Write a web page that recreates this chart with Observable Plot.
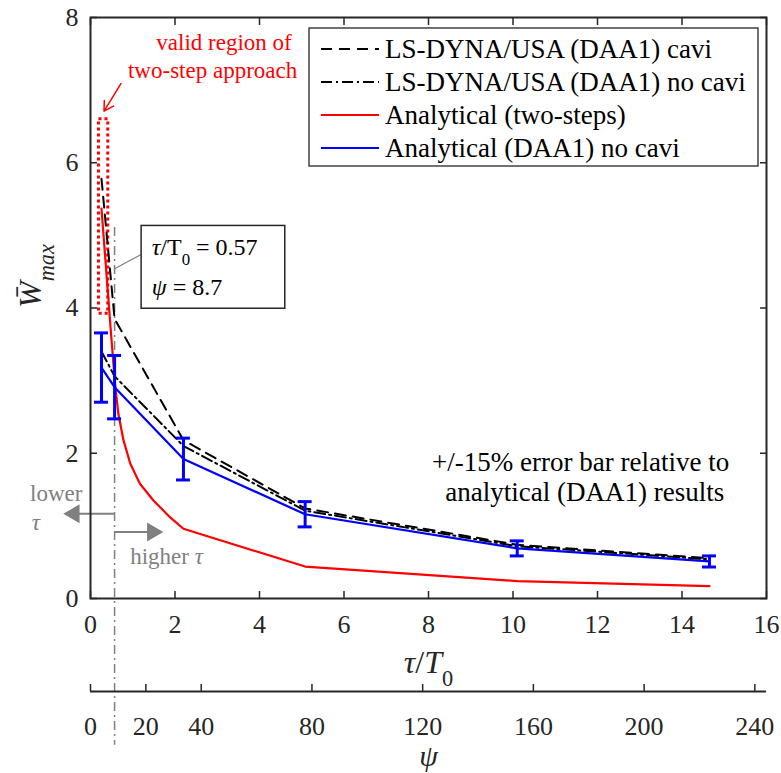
<!DOCTYPE html>
<html><head><meta charset="utf-8">
<script src="https://cdn.jsdelivr.net/npm/d3@7"></script>
<script src="https://cdn.jsdelivr.net/npm/@observablehq/plot@0.6"></script>
<style>
body{margin:0;background:#fff;}
#wrap{position:relative;width:781px;height:773px;font-family:"Liberation Serif","Times New Roman",serif;}
#wrap svg.legend{position:absolute;left:0;top:0;pointer-events:none;}
</style></head><body><div id="wrap"></div>
<script>
// ---- data ----
const tau = [0.26, 0.57, 2.2, 5.08, 10.1, 14.65];
const lsCavi = [5.78, 3.85, 2.18, 1.24, 0.74, 0.555];
const lsNoCavi = [3.40, 3.06, 2.10, 1.21, 0.72, 0.54];
const daa1NoCavi = [3.18, 2.91, 1.92, 1.16, 0.69, 0.51];
const twoStepTau = [0.26, 0.48, 0.58, 0.66, 0.78, 0.94, 1.17, 1.49, 1.88, 2.2, 5.08, 10.1, 14.65];
const twoStepW = [5.37, 3.69, 2.96, 2.54, 2.18, 1.86, 1.58, 1.35, 1.12, 0.96, 0.44, 0.24, 0.17];
const errFrac = 0.15;
const xTicks = [0, 2, 4, 6, 8, 10, 12, 14, 16];
const yTicks = [0, 2, 4, 6, 8];
const psiTicks = [0, 20, 40, 80, 120, 160, 200, 240];
const markTau = 0.57, markPsi = 8.7;
const psiPerTau = markPsi / markTau;
const legendLabels = ["LS-DYNA/USA (DAA1) cavi", "LS-DYNA/USA (DAA1) no cavi", "Analytical (two-steps)", "Analytical (DAA1) no cavi"];

// ---- derived tables ----
const toRows = (xs, ys) => xs.map((x, i) => ({x, y: ys[i]}));
const caviRows = toRows(tau, lsCavi);
const noCaviRows = toRows(tau, lsNoCavi);
const daaRows = toRows(tau, daa1NoCavi);
const twoStepRows = toRows(twoStepTau, twoStepW);
const errRows = tau.map((x, i) => ({x, lo: daa1NoCavi[i] * (1 - errFrac), hi: daa1NoCavi[i] * (1 + errFrac)}));

const axisColor = "#262626";
const grey = "#808080";
const serif = '"Liberation Serif", "Times New Roman", serif';
const dashed = "11,7";
const dashDot = "11,4,2,4";

const chart = Plot.plot({
  width: 781, height: 773,
  marginLeft: 90, marginRight: 15, marginTop: 17, marginBottom: 175,
  style: {fontFamily: serif, background: "white", color: axisColor, overflow: "visible"},
  x: {domain: [0, 16]},
  y: {domain: [0, 8]},
  marks: [
    // valid region (dotted red)
    Plot.rect([0], {x1: 0.2, x2: 0.42, y1: 3.92, y2: 6.6, fill: "none", stroke: "red", strokeWidth: 3, strokeDasharray: "3,3"}),
    // tau/T0 = 0.57 marker line
    Plot.ruleX([markTau], {y1: 5.11, y2: -2.02, stroke: grey, strokeWidth: 1.5, strokeDasharray: "9,4,2,4"}),
    // series
    Plot.line(twoStepRows, {x: "x", y: "y", stroke: "red", strokeWidth: 2.2}),
    Plot.line(daaRows, {x: "x", y: "y", stroke: "blue", strokeWidth: 2.2}),
    Plot.line(noCaviRows, {x: "x", y: "y", stroke: "black", strokeWidth: 2, strokeDasharray: dashDot}),
    Plot.line(caviRows, {x: "x", y: "y", stroke: "black", strokeWidth: 2, strokeDasharray: dashed}),
    // error bars
    Plot.ruleX(errRows, {x: "x", y1: "lo", y2: "hi", stroke: "blue", strokeWidth: 3}),
    Plot.ruleY(errRows, {y: "lo", x1: "x", x2: "x", insetLeft: -7, insetRight: -7, stroke: "blue", strokeWidth: 3}),
    Plot.ruleY(errRows, {y: "hi", x1: "x", x2: "x", insetLeft: -7, insetRight: -7, stroke: "blue", strokeWidth: 3}),
    // annotation box
    Plot.link([0], {x1: 1.21, y1: 4.74, x2: markTau, y2: 4.54, stroke: grey, strokeWidth: 1.2}),
    Plot.rect([0], {x1: 1.21, x2: 4.61, y1: 3.99, y2: 5.13, fill: "white", stroke: axisColor, strokeWidth: 1.5}),
    Plot.text([`τ/T0 = ${markTau}`], {x: 1.45, y: 4.84, textAnchor: "start", fontSize: 24, fill: "black"}),
    Plot.text([`ψ = ${markPsi}`], {x: 1.45, y: 4.29, textAnchor: "start", fontSize: 24, fill: "black"}),
    // red annotation
    Plot.text(["valid region of", "two-step approach"], {x: [3.16, 2.89], y: [7.65, 7.27], fontSize: 23, fill: "red"}),
    Plot.arrow([0], {x1: 0.72, y1: 7.09, x2: 0.32, y2: 6.71, stroke: "red", strokeWidth: 1.5, headLength: 14}),
    // error bar note
    Plot.text(["+/-15% error bar relative to", "analytical (DAA1) results"], {x: [11.6, 11.7], y: [1.87, 1.46], fontSize: 27, fill: "black"}),
    // lower / higher tau arrows
    Plot.link([0], {x1: markTau, y1: 1.167, x2: -0.5, y2: 1.167, stroke: grey, strokeWidth: 2}),
    Plot.dot([0], {x: -0.645, y: 1.167, symbol: "triangle", r: 7, fill: grey, stroke: "none", rotate: -90, dx: 10.9}),
    Plot.link([0], {x1: markTau, y1: 0.916, x2: 1.55, y2: 0.916, stroke: grey, strokeWidth: 2}),
    Plot.dot([0], {x: 1.725, y: 0.916, symbol: "triangle", r: 7, fill: grey, stroke: "none", rotate: 90, dx: -10.9}),
    Plot.text(["lower"], {x: -1.43, y: 1.44, textAnchor: "start", fontSize: 23, fill: grey}),
    Plot.text(["τ"], {x: -1.39, y: 1.05, textAnchor: "start", fontSize: 23, fill: grey, fontStyle: "italic"}),
    Plot.text(["higher τ"], {x: 0.94, y: 0.58, textAnchor: "start", fontSize: 23, fill: grey}),
    // axes
    Plot.axisX({anchor: "bottom", ticks: xTicks, tickSize: -7, tickPadding: 23, strokeWidth: 1.5, fontSize: 26, label: null}),
    Plot.axisX({anchor: "top", ticks: xTicks, tickSize: -7, strokeWidth: 1.5, tickFormat: () => "", label: null}),
    Plot.axisY({anchor: "left", ticks: yTicks, tickSize: -7, tickPadding: 19, strokeWidth: 1.5, fontSize: 26, label: null}),
    Plot.axisY({anchor: "right", ticks: yTicks, tickSize: -7, strokeWidth: 1.5, tickFormat: () => "", label: null}),
    Plot.axisX({anchor: "bottom", ticks: psiTicks.map(p => p / psiPerTau), tickFormat: d => String(Math.round(d * psiPerTau)),
      tickSize: -7, tickPadding: 32, dy: 93, strokeWidth: 1.5, fontSize: 26, label: null}),
    Plot.ruleY([0], {dy: 93, stroke: axisColor, strokeWidth: 2}),
    Plot.frame({stroke: axisColor, strokeWidth: 2}),
    // axis titles
    Plot.text(["τ/T0"], {frameAnchor: "bottom", dy: 74, fontSize: 32, fill: axisColor}),
    Plot.text(["ψ"], {frameAnchor: "bottom", dy: 167, fontSize: 30, fill: axisColor, fontStyle: "italic"}),
    Plot.text(["W\u0304max"], {frameAnchor: "left", dx: -60, rotate: -90, fontSize: 32, fill: axisColor})
  ]
});

const wrap = document.getElementById("wrap");
wrap.appendChild(chart);

// rich text (italic / subscripts) for math labels
function richText(root, match, parts) {
  root.querySelectorAll("text").forEach(t => {
    if (t.textContent !== match) return;
    const first = t.querySelector("tspan");
    if (first) for (const a of ["x", "y", "dy"]) if (first.hasAttribute(a) && !t.hasAttribute(a)) t.setAttribute(a, first.getAttribute(a));
    while (t.firstChild) t.removeChild(t.firstChild);
    for (const p of parts) {
      const ts = document.createElementNS("http://www.w3.org/2000/svg", "tspan");
      ts.textContent = p.t;
      if (p.italic) ts.setAttribute("font-style", "italic");
      if (p.sub) { ts.setAttribute("baseline-shift", "sub"); ts.setAttribute("font-size", "70%"); }
      t.appendChild(ts);
    }
  });
}
richText(chart, "τ/T0", [{t: "τ", italic: true}, {t: "/"}, {t: "T", italic: true}, {t: "0", sub: true}]);
richText(chart, `τ/T0 = ${markTau}`, [{t: "τ", italic: true}, {t: "/T"}, {t: "0", sub: true}, {t: ` = ${markTau}`}]);
richText(chart, `ψ = ${markPsi}`, [{t: "ψ", italic: true}, {t: ` = ${markPsi}`}]);
richText(chart, "W\u0304max", [{t: "W\u0304", italic: true}, {t: "max", italic: true, sub: true}]);
richText(chart, "higher τ", [{t: "higher "}, {t: "τ", italic: true}]);

// legend overlay
const legStroke = ["black", "black", "red", "blue"];
const legDash = [dashed, dashDot, null, null];
const leg = d3.create("svg").attr("class", "legend").attr("width", 781).attr("height", 773);
leg.append("rect").attr("x", 309).attr("y", 28).attr("width", 449).attr("height", 138)
  .attr("fill", "white").attr("stroke", axisColor).attr("stroke-width", 1.3);
legendLabels.forEach((lab, i) => {
  const cy = 49 + i * 33;
  leg.append("line").attr("x1", 321).attr("x2", 379).attr("y1", cy).attr("y2", cy)
    .attr("stroke", legStroke[i]).attr("stroke-width", 2).attr("stroke-dasharray", legDash[i]);
  leg.append("text").attr("x", 385).attr("y", cy).attr("dy", "0.33em")
    .attr("font-family", serif).attr("font-size", 27).attr("fill", "black").text(lab);
});
wrap.appendChild(leg.node());
</script>
</body></html>
